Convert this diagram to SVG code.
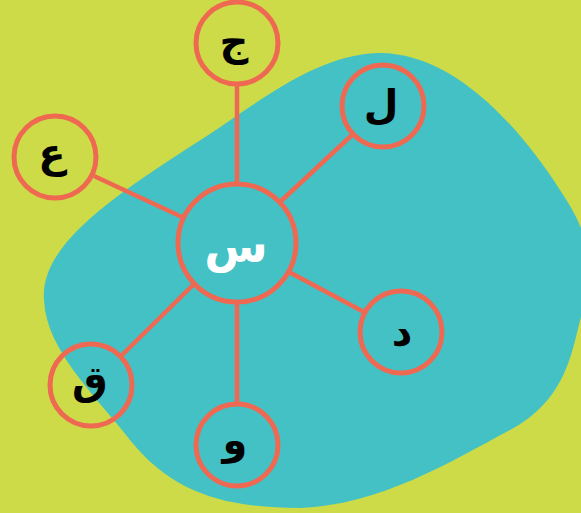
<svg xmlns="http://www.w3.org/2000/svg" width="581" height="513" viewBox="0 0 581 513">
<style>
.node{fill:none;stroke:#EF6952;stroke-width:5}
.edge{stroke:#EF6952;stroke-width:4.5;fill:none}
.lbl{font-family:"DejaVu Sans",sans-serif;font-weight:bold;font-size:40px;fill:#000;text-anchor:middle;dominant-baseline:central}
.main{fill:#fff;font-size:46px}
</style>
<rect width="581" height="513" fill="#CCDB47"/>
<path id="blob" fill="#44C1C4" d="M44 300 C40 250 100 205 185 150 C250 110 310 55 378 53 C450 52 515 120 560 190 C590 235 595 260 581 317 C572 350 567 400 510 430 C450 462 380 505 300 508 C220 508 170 490 130 440 C95 395 46 350 44 300 Z"/>
<g id="connectors">
<line class="edge" x1="237" y1="183" x2="237" y2="85"/>
<line class="edge" x1="280" y1="202" x2="352" y2="135"/>
<line class="edge" x1="182" y1="217" x2="94" y2="176"/>
<line class="edge" x1="289" y1="272" x2="364" y2="312"/>
<line class="edge" x1="193" y1="285" x2="121" y2="356"/>
<line class="edge" x1="237" y1="303" x2="237" y2="403"/>
</g>
<g id="n-center"><circle class="node" cx="237" cy="243" r="59"/><text class="lbl main" x="236" y="246">س</text></g>
<g id="n-jim"><circle class="node" cx="237" cy="43" r="41"/><text class="lbl" x="234" y="41">ج</text></g>
<g id="n-lam"><circle class="node" cx="383" cy="106" r="41"/><text class="lbl" x="381" y="104">ل</text></g>
<g id="n-ain"><circle class="node" cx="55" cy="157" r="41"/><text class="lbl" x="52" y="153">ع</text></g>
<g id="n-dal"><circle class="node" cx="401" cy="332" r="41"/><text class="lbl" x="402" y="332">د</text></g>
<g id="n-qaf"><circle class="node" cx="91" cy="385" r="41"/><text class="lbl" x="90" y="380">ق</text></g>
<g id="n-waw"><circle class="node" cx="237" cy="445" r="41"/><text class="lbl" x="235" y="440">و</text></g>
</svg>
